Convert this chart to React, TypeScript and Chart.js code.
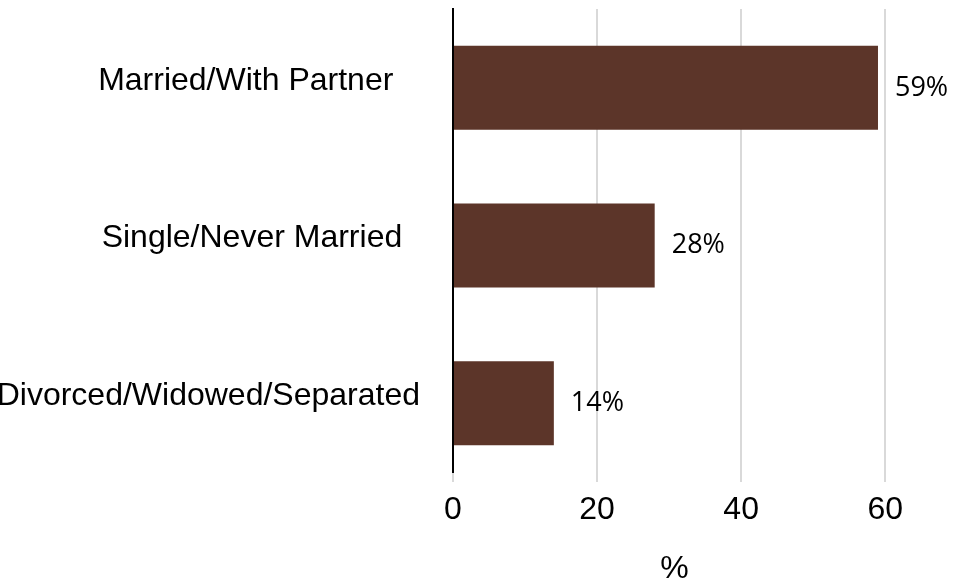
import React, { useEffect, useRef } from "react";
import { Chart, registerables } from "chart.js";

Chart.register(...registerables);

// Trailing spaces reproduce the uneven label placement of the reference
const categories = [
  "Married/With Partner   ",
  "Single/Never Married  ",
  "Divorced/Widowed/Separated",
];
const values = [59, 28, 14];
const xTicks = [0, 20, 40, 60];
const axisTitle = "%";

const barLabels = {
  id: "barLabels",
  afterDatasetsDraw(chart: any) {
    const ctx = chart.ctx;
    const meta = chart.getDatasetMeta(0);
    ctx.save();
    ctx.font = '27px "Open Sans"';
    ctx.fillStyle = "#000";
    ctx.textAlign = "left";
    ctx.textBaseline = "middle";
    meta.data.forEach((bar: any, i: number) => {
      ctx.fillText(values[i] + "%", bar.x + 17, bar.y);
    });
    ctx.restore();
  },
};

const axisLine = {
  id: "axisLine",
  afterDatasetsDraw(chart: any) {
    const { ctx, chartArea } = chart;
    const x = chart.scales.x.getPixelForValue(0);
    ctx.save();
    ctx.strokeStyle = "#000";
    ctx.lineWidth = 2;
    ctx.beginPath();
    ctx.moveTo(x, chartArea.top - 1);
    ctx.lineTo(x, chartArea.bottom - 9);
    ctx.stroke();
    ctx.restore();
  },
};

export default function App() {
  const ref = useRef<HTMLCanvasElement>(null);
  useEffect(() => {
    if (!ref.current) return;
    const chart = new Chart(ref.current, {
      type: "bar",
      data: {
        labels: categories,
        datasets: [
          {
            data: values,
            backgroundColor: "#5C3529",
            borderWidth: 0,
            barPercentage: 1,
            categoryPercentage: 0.533,
          },
        ],
      },
      plugins: [barLabels, axisLine],
      options: {
        indexAxis: "y",
        animation: false,
        responsive: true,
        maintainAspectRatio: false,
        layout: { padding: { top: 9, right: 65, bottom: 0, left: 0 } },
        plugins: {
          legend: { display: false },
          tooltip: { enabled: false },
        },
        scales: {
          x: {
            min: 0,
            max: 61.5,
            afterBuildTicks: (axis: any) => {
              axis.ticks = xTicks.map((v) => ({ value: v }));
            },
            afterFit: (scale: any) => {
              scale.height = 103;
              scale.paddingLeft = 0;
              scale.paddingRight = 0;
            },
            grid: {
              color: "#d9d9d9",
              lineWidth: 2,
              drawTicks: false,
            },
            border: { display: false },
            ticks: {
              padding: 9,
              color: "#000",
              font: { family: '"Liberation Sans", Arial, sans-serif', size: 32 },
            },
            title: {
              display: true,
              text: axisTitle,
              color: "#000",
              padding: { top: 19, bottom: -3 },
              font: { family: '"Liberation Sans", Arial, sans-serif', size: 32 },
            },
          },
          y: {
            afterFit: (scale: any) => {
              scale.width = 453;
              scale.paddingTop = 0;
              scale.paddingBottom = 0;
            },
            grid: { display: false, drawTicks: false },
            border: { display: false },
            ticks: {
              padding: 33,
              labelOffset: -7,
              color: "#000",
              font: { family: '"Liberation Sans", Arial, sans-serif', size: 32 },
            },
          },
        },
      },
    });
    return () => chart.destroy();
  }, []);
  return (
    <div style={{ position: "absolute", left: 0, top: 0, width: 961, height: 585, background: "#fff" }}>
      <canvas ref={ref} />
    </div>
  );
}
